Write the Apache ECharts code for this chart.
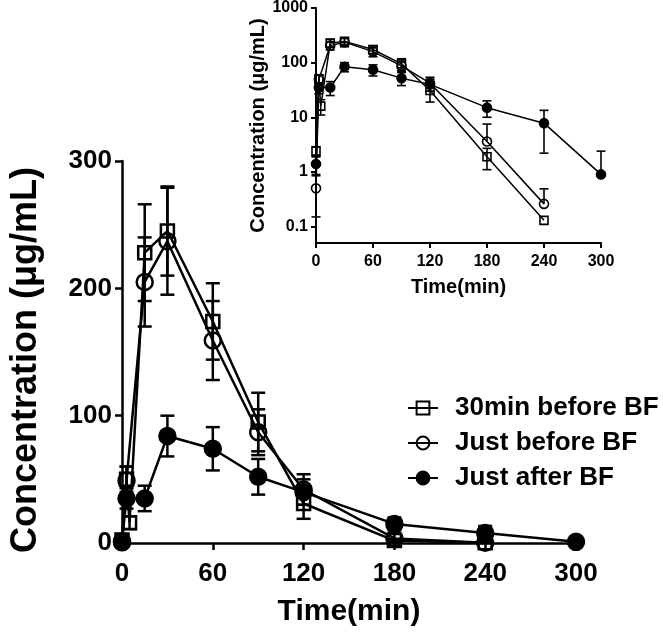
<!DOCTYPE html>
<html>
<head>
<meta charset="utf-8">
<script src="https://cdn.jsdelivr.net/npm/echarts@6/dist/echarts.min.js"></script>
<style>
  html, body { margin: 0; padding: 0; background: #fff; }
  #chart { width: 663px; height: 635px; }
</style>
</head>
<body>
<div id="chart"></div>
<script>
// time points (min) and mean / SD per group
const sqTime = [0, 3, 5, 15, 30, 60, 90, 120, 180, 240];
const sqMean = [2.4, 50, 16, 228, 245, 174, 95, 31, 1.9, 0.13];
const sqSD   = [0.5, 10, 5, 38, 35, 30, 23, 12, 0.8, 0];

const ciTime = [0, 3, 15, 30, 60, 90, 120, 180, 240];
const ciMean = [0.5, 49, 205, 237, 159, 87, 42, 3.6, 0.26];
const ciSD   = [0.35, 11, 35, 42, 31, 18, 12, 3.9, 0.23];

const fiTime = [0, 3, 15, 30, 60, 90, 120, 180, 240, 300];
const fiMean = [1.4, 35, 35, 84, 74, 52, 40, 15, 7.8, 0.9];
const fiSD   = [0.5, 8, 10, 16, 17, 14, 10, 5, 5.6, 1.5];

const groupNames = ['30min before BF', 'Just before BF', 'Just after BF'];
const xTicks = [0, 60, 120, 180, 240, 300];
const logTicks = [0.1, 1, 10, 100, 1000];

const FONT = 'Liberation Sans';
const zip = (t, m, s) => t.map((v, i) => [v, m[i], s[i]]);
const groups = [
  { name: groupNames[0], data: zip(sqTime, sqMean, sqSD), symbol: 'rect', hollow: true },
  { name: groupNames[1], data: zip(ciTime, ciMean, ciSD), symbol: 'circle', hollow: true },
  { name: groupNames[2], data: zip(fiTime, fiMean, fiSD), symbol: 'circle', hollow: false }
];

function errRender(isLog, cap, lw) {
  return function (params, api) {
    const x = api.value(0), y = api.value(1), sd = api.value(2);
    if (!sd) return;
    const mid = api.coord([x, y]);
    const hi = api.coord([x, y + sd]);
    const kids = [
      { type: 'line', shape: { x1: mid[0], y1: mid[1], x2: hi[0], y2: hi[1] } },
      { type: 'line', shape: { x1: hi[0] - cap, y1: hi[1], x2: hi[0] + cap, y2: hi[1] } }
    ];
    const low = y - sd;
    if (!isLog || low > 0.05) {
      const lo = api.coord([x, isLog ? low : Math.max(low, 0)]);
      kids.push({ type: 'line', shape: { x1: mid[0], y1: mid[1], x2: lo[0], y2: lo[1] } });
      kids.push({ type: 'line', shape: { x1: lo[0] - cap, y1: lo[1], x2: lo[0] + cap, y2: lo[1] } });
    }
    kids.forEach(k => { k.style = { stroke: '#000', lineWidth: lw, fill: null }; });
    return { type: 'group', children: kids };
  };
}

const series = [];
groups.forEach(g => {
  // main (linear) panel
  series.push({
    type: 'line', name: g.name, xAxisIndex: 0, yAxisIndex: 0,
    data: g.data.map(d => [d[0], d[1]]),
    symbol: g.symbol, symbolSize: g.symbol === 'rect' ? 13 : 16,
    lineStyle: { color: '#000', width: 2.5 },
    itemStyle: { color: g.hollow ? 'rgba(0,0,0,0)' : '#000', borderColor: '#000', borderWidth: 2.5 },
    z: 3
  });
  series.push({
    type: 'custom', name: g.name + ' SD', xAxisIndex: 0, yAxisIndex: 0,
    renderItem: errRender(false, 7, 2.5), data: g.data, z: 1,
    encode: { x: 0, y: 1 }
  });
  // inset (log) panel
  series.push({
    type: 'line', name: g.name, xAxisIndex: 1, yAxisIndex: 1,
    data: g.data.map(d => [d[0], d[1]]),
    symbol: g.symbol, symbolSize: g.symbol === 'rect' ? 8 : 9,
    lineStyle: { color: '#000', width: 1.5 },
    itemStyle: { color: g.hollow ? 'rgba(0,0,0,0)' : '#000', borderColor: '#000', borderWidth: 1.6 },
    z: 3
  });
  series.push({
    type: 'custom', name: g.name + ' log SD', xAxisIndex: 1, yAxisIndex: 1,
    renderItem: errRender(true, 4.5, 1.6), data: g.data, z: 1,
    encode: { x: 0, y: 1 }
  });
});

const axisLine = w => ({ show: true, onZero: false, lineStyle: { color: '#000', width: w } });

const chart = echarts.init(document.getElementById('chart'), null, { renderer: 'canvas' });
chart.setOption({
  animation: false,
  backgroundColor: '#fff',
  textStyle: { fontFamily: FONT },
  grid: [
    { left: 116, top: 161, width: 460, height: 382 },
    { left: 316, top: 6, width: 285, height: 237 }
  ],
  legend: {
    data: groupNames,
    orient: 'vertical',
    left: 402,
    top: 390,
    itemWidth: 30,
    itemHeight: 16,
    itemGap: 9,
    textStyle: { fontFamily: FONT, fontWeight: 'bold', fontSize: 26, color: '#000', padding: [0, 0, 0, 12] }
  },
  xAxis: [
    {
      gridIndex: 0, type: 'value', min: 0, max: 300, interval: 60,
      axisLine: axisLine(2.5),
      axisTick: { show: true, length: 7, lineStyle: { color: '#000', width: 2.5 } },
      axisLabel: { color: '#000', fontWeight: 'bold', fontSize: 26, margin: 18, fontFamily: FONT,
        customValues: xTicks },
      splitLine: { show: false },
      name: 'Time(min)', nameLocation: 'middle', nameGap: 54,
      nameTextStyle: { color: '#000', fontWeight: 'bold', fontSize: 30, fontFamily: FONT }
    },
    {
      gridIndex: 1, type: 'value', min: 0, max: 300, interval: 60,
      axisLine: axisLine(2),
      axisTick: { show: true, length: 5, lineStyle: { color: '#000', width: 2 } },
      axisLabel: { color: '#000', fontWeight: 'bold', fontSize: 16, margin: 11, fontFamily: FONT },
      splitLine: { show: false },
      name: 'Time(min)', nameLocation: 'middle', nameGap: 34,
      nameTextStyle: { color: '#000', fontWeight: 'bold', fontSize: 20, fontFamily: FONT }
    }
  ],
  yAxis: [
    {
      gridIndex: 0, type: 'value', min: 0, max: 300, interval: 100,
      axisLine: axisLine(2.5),
      axisTick: { show: true, length: 7, lineStyle: { color: '#000', width: 2.5 } },
      axisLabel: { color: '#000', fontWeight: 'bold', fontSize: 26, margin: 10, fontFamily: FONT },
      splitLine: { show: false },
      name: 'Concentration (μg/mL)', nameLocation: 'middle', nameGap: 78,
      nameTextStyle: { color: '#000', fontWeight: 'bold', fontSize: 36, fontFamily: FONT, padding: [0, 16, 0, 0] }
    },
    {
      gridIndex: 1, type: 'log', logBase: 10, min: 0.05, max: 1000,
      axisLine: axisLine(2),
      axisTick: { show: true, length: 5, lineStyle: { color: '#000', width: 2 }, customValues: logTicks },
      axisLabel: { color: '#000', fontWeight: 'bold', fontSize: 16, margin: 8, fontFamily: FONT,
        customValues: logTicks,
        formatter: v => String(parseFloat(Number(v).toPrecision(3))) },
      splitLine: { show: false },
      minorTick: { show: false },
      name: 'Concentration (μg/mL)', nameLocation: 'middle', nameGap: 46,
      nameTextStyle: { color: '#000', fontWeight: 'bold', fontSize: 20, fontFamily: FONT }
    }
  ],
  series: series
});
</script>
</body>
</html>
